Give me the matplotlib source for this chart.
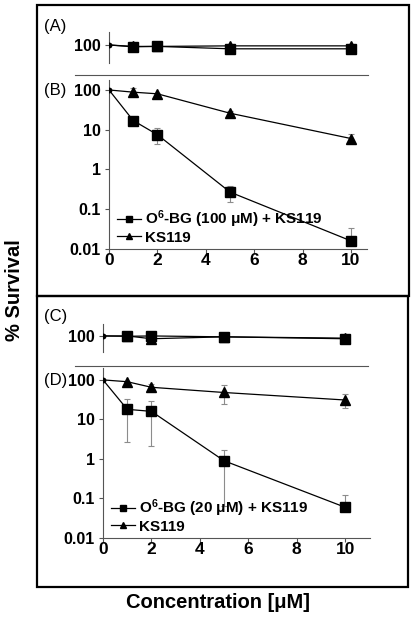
import matplotlib
matplotlib.use("Agg")
import matplotlib.pyplot as plt
from matplotlib.lines import Line2D
from matplotlib.patches import Rectangle
import numpy as np

plt.rcParams['font.family'] = ['Liberation Sans', 'DejaVu Sans']
plt.rcParams['mathtext.fontset'] = 'custom'
plt.rcParams['mathtext.rm'] = 'Liberation Sans:bold'
plt.rcParams['mathtext.bf'] = 'Liberation Sans:bold'
plt.rcParams['mathtext.default'] = 'bf'

conc = [0, 1, 2, 5, 10]

# panel A (O6-BG 100 uM, no KS119 effect)
a_sq = [100, 90, 92, 80, 80]
a_tri = [100, 92, 92, 95, 95]
# panel B
b_sq = [100, 17, 7.5, 0.27, 0.016]
b_sq_lo = [100, 17, 4.5, 0.15, 0.016]
b_sq_hi = [100, 17, 11, 0.38, 0.033]
b_tri = [100, 88, 80, 26, 6]
b_tri_lo = [100, 70, 75, 22, 4.7]
b_tri_hi = [100, 110, 86, 30, 7.6]
# panel C
c_sq = [100, 98, 100, 95, 85]
c_tri = [100, 100, 85, 95, 88]
# panel D
d_sq = [100, 18, 16, 0.9, 0.06]
d_sq_lo = [100, 2.7, 2.1, 0.065, 0.06]
d_sq_hi = [100, 33, 29, 1.7, 0.12]
d_tri = [100, 90, 65, 48, 31]
d_tri_lo = [100, 90, 52, 24, 20]
d_tri_hi = [100, 90, 80, 75, 43]

legend_top = ["O$^{6}$-BG (100 μM) + KS119", "KS119"]
legend_bot = ["O$^{6}$-BG (20 μM) + KS119", "KS119"]

W, H = 415, 622
fig = plt.figure(figsize=(W / 100, H / 100), dpi=100)


def box(x0, y0, x1, y1):
    # pixel coords (top-left origin) -> figure fraction
    return [x0 / W, 1 - y1 / H, (x1 - x0) / W, (y1 - y0) / H]


def series(ax, y, marker, lo=None, hi=None):
    y = np.array(y, dtype=float)
    ax.plot(conc, y, color='black', lw=0.9, zorder=3)
    if lo is not None:
        err = [y - np.array(lo), np.array(hi) - y]
        ax.errorbar(conc[1:], y[1:], yerr=[err[0][1:], err[1][1:]], fmt='none',
                    ecolor='#8c8c8c', elinewidth=0.8, capsize=2, capthick=0.8, zorder=2)
    ax.plot(conc[1:], y[1:], ls='none', marker=marker, ms=6.5, color='black', zorder=4)
    ax.plot(conc[:1], y[:1], ls='none', marker='o', ms=3, color='black', zorder=4)


def style(ax, xmax, show_x):
    ax.set_yscale('log')
    ax.set_xlim(0, xmax)
    for s in ['top', 'right']:
        ax.spines[s].set_visible(False)
    ax.spines['left'].set_color('#555555')
    ax.spines['left'].set_linewidth(0.8)
    ax.tick_params(axis='y', which='major', length=3, width=0.8, color='#555555', pad=3)
    ax.tick_params(axis='y', which='minor', length=0)
    if show_x:
        ax.spines['bottom'].set_color('#555555')
        ax.spines['bottom'].set_linewidth(0.8)
        ax.set_xticks([0, 2, 4, 6, 8, 10])
        ax.set_xticklabels(['0', '2', '4', '6', '8', '10'], fontsize=12.5,
                           fontweight='bold')
        ax.tick_params(axis='x', length=3, width=0.8, color='#555555', pad=0)
    else:
        ax.spines['bottom'].set_visible(False)
        ax.set_xticks([])


def yticks(ax, vals, labels):
    ax.set_yticks(vals)
    ax.set_yticklabels(labels, fontsize=11.5, fontweight='bold')
    ax.minorticks_off()


# ---- top group ----
axA = fig.add_axes(box(109, 32, 367, 63))
series(axA, a_tri, '^')
series(axA, a_sq, 's')
style(axA, 10.66, False)
axA.set_ylim(35, 213)
yticks(axA, [100], ['100'])

axB = fig.add_axes(box(109, 80, 367, 249))
series(axB, b_tri, '^', b_tri_lo, b_tri_hi)
series(axB, b_sq, 's', b_sq_lo, b_sq_hi)
style(axB, 10.66, True)
axB.set_ylim(0.01, 178)
yticks(axB, [0.01, 0.1, 1, 10, 100], ['0.01', '0.1', '1', '10', '100'])

# ---- bottom group ----
axC = fig.add_axes(box(103, 324, 370, 352))
series(axC, c_tri, '^')
series(axC, c_sq, 's')
style(axC, 11.03, False)
axC.set_ylim(39.4, 200)
yticks(axC, [100], ['100'])

axD = fig.add_axes(box(103, 368, 370, 538))
series(axD, d_tri, '^', d_tri_lo, d_tri_hi)
series(axD, d_sq, 's', d_sq_lo, d_sq_hi)
style(axD, 11.03, True)
axD.set_ylim(0.01, 200)
yticks(axD, [0.01, 0.1, 1, 10, 100], ['0.01', '0.1', '1', '10', '100'])

# legends
for ax, labels in [(axB, legend_top), (axD, legend_bot)]:
    handles = [Line2D([], [], color='black', lw=0.9, marker='s', ms=4),
               Line2D([], [], color='black', lw=0.9, marker='^', ms=4)]
    ax.legend(handles, labels, loc='lower left', bbox_to_anchor=(0.0, -0.02),
              frameon=False, handlelength=1.6, handletextpad=0.25,
              labelspacing=0.05, borderaxespad=0.3, borderpad=0.2,
              prop={'weight': 'bold', 'size': 11})

# outer boxes and separators
for (x0, y0, x1, y1) in [(37, 5, 409, 296), (37, 296, 408, 587)]:
    fig.patches.append(Rectangle((x0 / W, 1 - y1 / H), (x1 - x0) / W, (y1 - y0) / H,
                                 transform=fig.transFigure, fill=False,
                                 edgecolor='black', lw=1.6))
for yy in [75, 366]:
    fig.add_artist(Line2D([75 / W, 368 / W], [1 - yy / H, 1 - yy / H],
                          transform=fig.transFigure, color='#555555', lw=0.8))

# panel letters
for lab, yy in [("(A)", 27), ("(B)", 90), ("(C)", 316), ("(D)", 381)]:
    fig.text(44 / W, 1 - yy / H, lab, fontsize=12, va='center', ha='left')

fig.text(14 / W, 1 - 290 / H, "% Survival", rotation=90, fontsize=14.5,
         fontweight='bold', ha='center', va='center')
fig.text(218 / W, 1 - 603 / H, "Concentration [μM]", fontsize=14.5,
         fontweight='bold', ha='center', va='center')

fig.savefig("out.png", dpi=100)
